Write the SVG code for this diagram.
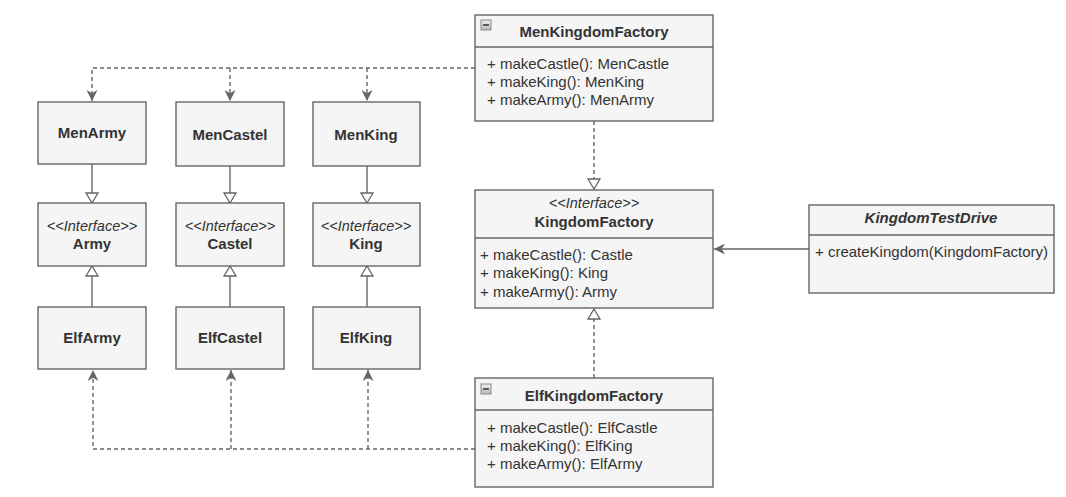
<svg xmlns="http://www.w3.org/2000/svg" width="1066" height="497" viewBox="0 0 1066 497">
<defs>
<style>
.box{fill:#f5f5f5;stroke:#666666;stroke-width:1.4}
.sep{stroke:#666666;stroke-width:1.4;fill:none}
.t{font-family:"Liberation Sans",Arial,sans-serif;fill:#333333}
.b{font-weight:bold;font-size:15px;text-anchor:middle}
.m{font-size:15px}
.s{font-style:italic;font-size:14.5px;text-anchor:middle}
.dash{stroke:#666666;stroke-width:1.4;fill:none;stroke-dasharray:4 3}
.line{stroke:#666666;stroke-width:1.4;fill:none}
</style>
<linearGradient id="ig" x1="0" y1="0" x2="0" y2="1">
<stop offset="0" stop-color="#f0f0f0"/>
<stop offset="1" stop-color="#b8b8b8"/>
</linearGradient>
<marker id="arr" viewBox="0 0 10 10" refX="10" refY="5" markerWidth="11" markerHeight="11" markerUnits="userSpaceOnUse" orient="auto">
<path d="M0,0 L10,5 L0,10 L3,5 Z" fill="#666666"/>
</marker>
<marker id="tri" viewBox="0 0 12 14" refX="11" refY="7" markerWidth="12" markerHeight="14" markerUnits="userSpaceOnUse" orient="auto">
<path d="M1,1 L11,7 L1,13 Z" fill="#ffffff" stroke="#666666" stroke-width="1.3"/>
</marker>
</defs>

<g id="connectors">
<path class="dash" d="M475,68 H92 V101" marker-end="url(#arr)"/>
<path class="dash" d="M230,68 V101" marker-end="url(#arr)"/>
<path class="dash" d="M367,68 V101" marker-end="url(#arr)"/>
<path class="dash" d="M475,449 H93 V370" marker-end="url(#arr)"/>
<path class="dash" d="M231,449 V370" marker-end="url(#arr)"/>
<path class="dash" d="M368,449 V370" marker-end="url(#arr)"/>
<path class="dash" d="M594,121 V189" marker-end="url(#tri)"/>
<path class="dash" d="M594,378 V309" marker-end="url(#tri)"/>
<path class="line" d="M92,164 V203" marker-end="url(#tri)"/>
<path class="line" d="M230,166 V203" marker-end="url(#tri)"/>
<path class="line" d="M367,166 V203" marker-end="url(#tri)"/>
<path class="line" d="M92,307 V266" marker-end="url(#tri)"/>
<path class="line" d="M230,307 V266" marker-end="url(#tri)"/>
<path class="line" d="M367,307 V266" marker-end="url(#tri)"/>
<path class="line" d="M809,249 H714" marker-end="url(#arr)"/>
</g>

<g id="MenKingdomFactory">
<rect class="box" x="475" y="15" width="238" height="106"/>
<line class="sep" x1="475" y1="47" x2="713" y2="47"/>
<rect x="481" y="20" width="10" height="10" fill="url(#ig)" stroke="#8a8a8a" stroke-width="1"/>
<line x1="483" y1="25" x2="489" y2="25" stroke="#333333" stroke-width="1.5"/>
<text class="t b" x="594" y="37">MenKingdomFactory</text>
<text class="t m" x="487" y="69">+ makeCastle(): MenCastle</text>
<text class="t m" x="487" y="87">+ makeKing(): MenKing</text>
<text class="t m" x="487" y="105">+ makeArmy(): MenArmy</text>
</g>

<g id="MenArmy">
<rect class="box" x="38" y="102" width="108" height="62"/>
<text class="t b" x="92" y="138">MenArmy</text>
</g>
<g id="MenCastel">
<rect class="box" x="176" y="102" width="108" height="64"/>
<text class="t b" x="230" y="140">MenCastel</text>
</g>
<g id="MenKing">
<rect class="box" x="313" y="102" width="107" height="64"/>
<text class="t b" x="366" y="140">MenKing</text>
</g>

<g id="Army">
<rect class="box" x="38" y="203" width="108" height="63"/>
<text class="t s" x="92" y="231">&lt;&lt;Interface&gt;&gt;</text>
<text class="t b" x="92" y="249">Army</text>
</g>
<g id="Castel">
<rect class="box" x="176" y="203" width="108" height="63"/>
<text class="t s" x="230" y="231">&lt;&lt;Interface&gt;&gt;</text>
<text class="t b" x="230" y="249">Castel</text>
</g>
<g id="King">
<rect class="box" x="313" y="203" width="107" height="63"/>
<text class="t s" x="366" y="231">&lt;&lt;Interface&gt;&gt;</text>
<text class="t b" x="366" y="249">King</text>
</g>

<g id="ElfArmy">
<rect class="box" x="38" y="307" width="108" height="62"/>
<text class="t b" x="92" y="343">ElfArmy</text>
</g>
<g id="ElfCastel">
<rect class="box" x="176" y="307" width="108" height="62"/>
<text class="t b" x="230" y="343">ElfCastel</text>
</g>
<g id="ElfKing">
<rect class="box" x="313" y="307" width="107" height="62"/>
<text class="t b" x="366" y="343">ElfKing</text>
</g>

<g id="KingdomFactory">
<rect class="box" x="475" y="190" width="238" height="118"/>
<line class="sep" x1="475" y1="238" x2="713" y2="238"/>
<text class="t s" x="594" y="208">&lt;&lt;Interface&gt;&gt;</text>
<text class="t b" x="594" y="227">KingdomFactory</text>
<text class="t m" x="480" y="260">+ makeCastle(): Castle</text>
<text class="t m" x="480" y="278">+ makeKing(): King</text>
<text class="t m" x="480" y="297">+ makeArmy(): Army</text>
</g>

<g id="KingdomTestDrive">
<rect class="box" x="809" y="205" width="245" height="88"/>
<line class="sep" x1="809" y1="235" x2="1054" y2="235"/>
<text class="t b" x="931" y="223" font-style="italic">KingdomTestDrive</text>
<text class="t m" x="815" y="257">+ createKingdom(KingdomFactory)</text>
</g>

<g id="ElfKingdomFactory">
<rect class="box" x="475" y="378" width="238" height="109"/>
<line class="sep" x1="475" y1="410" x2="713" y2="410"/>
<rect x="481" y="384" width="10" height="10" fill="url(#ig)" stroke="#8a8a8a" stroke-width="1"/>
<line x1="483" y1="389" x2="489" y2="389" stroke="#333333" stroke-width="1.5"/>
<text class="t b" x="594" y="401">ElfKingdomFactory</text>
<text class="t m" x="487" y="433">+ makeCastle(): ElfCastle</text>
<text class="t m" x="487" y="451">+ makeKing(): ElfKing</text>
<text class="t m" x="487" y="469">+ makeArmy(): ElfArmy</text>
</g>
</svg>
